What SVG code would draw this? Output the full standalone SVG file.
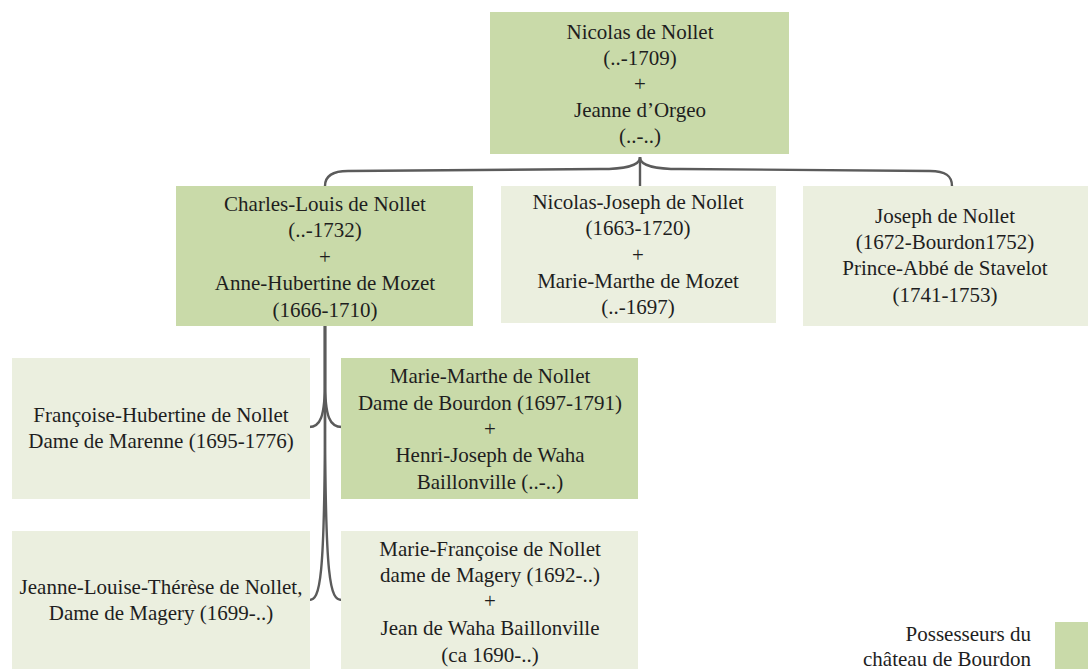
<svg xmlns="http://www.w3.org/2000/svg" width="1088" height="669" viewBox="0 0 1088 669">
<style>
.dark{fill:#c9daa9}
.light{fill:#ebefdf}
text{font-family:"Liberation Serif",serif;font-size:21px;fill:#1e1e1e;text-anchor:middle}
.conn path{fill:none;stroke:#5b5b5b;stroke-width:2.4}
</style>
<rect width="1088" height="669" fill="#ffffff"/>
<g class="conn" id="connectors">
<path d="M640,157 V186"/>
<path d="M640,157 C640,167 622,169 600,169 L348,171 C332,171 325,176 325,186"/>
<path d="M640,157 C640,167 658,169 680,169 L930,171 C946,171 952,176 952,186"/>
<path d="M325,326 V380 C325,418 320,427 309,427"/>
<path d="M325,326 V380 C325,418 330,427 342,427"/>
<path d="M325,326 V400 C325,585 320,600 309,600"/>
<path d="M325,326 V400 C325,585 330,600 342,600"/>
</g>
<g id="n-nicolas">
<rect class="dark" x="490" y="12" width="299" height="142"/>
<text x="640" y="39">Nicolas de Nollet</text>
<text x="640" y="65">(..-1709)</text>
<text x="640" y="91">+</text>
<text x="640" y="117">Jeanne d’Orgeo</text>
<text x="640" y="143">(..-..)</text>
</g>
<g id="n-charles">
<rect class="dark" x="176" y="186" width="297" height="140"/>
<text x="325" y="211">Charles-Louis de Nollet</text>
<text x="325" y="237">(..-1732)</text>
<text x="325" y="264">+</text>
<text x="325" y="290">Anne-Hubertine de Mozet</text>
<text x="325" y="317">(1666-1710)</text>
</g>
<g id="n-nicolasjoseph">
<rect class="light" x="501" y="186" width="275" height="137"/>
<text x="638" y="209">Nicolas-Joseph de Nollet</text>
<text x="638" y="235">(1663-1720)</text>
<text x="638" y="262">+</text>
<text x="638" y="288">Marie-Marthe de Mozet</text>
<text x="638" y="314">(..-1697)</text>
</g>
<g id="n-joseph">
<rect class="light" x="803" y="186" width="285" height="140"/>
<text x="945" y="223">Joseph de Nollet</text>
<text x="945" y="249">(1672-Bourdon1752)</text>
<text x="945" y="275">Prince-Abbé de Stavelot</text>
<text x="945" y="302">(1741-1753)</text>
</g>
<g id="n-francoise">
<rect class="light" x="12" y="358" width="298" height="141"/>
<text x="161" y="422">Françoise-Hubertine de Nollet</text>
<text x="161" y="448">Dame de Marenne (1695-1776)</text>
</g>
<g id="n-mariemarthe">
<rect class="dark" x="341" y="358" width="297" height="141"/>
<text x="490" y="383">Marie-Marthe de Nollet</text>
<text x="490" y="410">Dame de Bourdon (1697-1791)</text>
<text x="490" y="436">+</text>
<text x="490" y="462">Henri-Joseph de Waha</text>
<text x="490" y="489">Baillonville (..-..)</text>
</g>
<g id="n-jeannelouise">
<rect class="light" x="12" y="531" width="298" height="138"/>
<text x="161" y="594">Jeanne-Louise-Thérèse de Nollet,</text>
<text x="161" y="620">Dame de Magery (1699-..)</text>
</g>
<g id="n-mariefrancoise">
<rect class="light" x="341" y="531" width="297" height="138"/>
<text x="490" y="556">Marie-Françoise de Nollet</text>
<text x="490" y="582">dame de Magery (1692-..)</text>
<text x="490" y="608">+</text>
<text x="490" y="635">Jean de Waha Baillonville</text>
<text x="490" y="662">(ca 1690-..)</text>
</g>
<g id="legend">
<rect class="dark" x="1055" y="622" width="33" height="47"/>
<text x="1031" y="641" style="text-anchor:end">Possesseurs du</text>
<text x="1031" y="666" style="text-anchor:end">château de Bourdon</text>
</g>
</svg>
